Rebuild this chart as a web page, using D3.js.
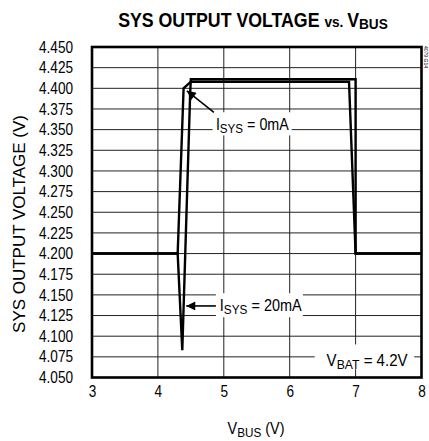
<!DOCTYPE html>
<html><head><meta charset="utf-8">
<script src="https://cdn.jsdelivr.net/npm/d3@7"></script>
<style>
body{margin:0;background:#fff;}
text{font-family:"Liberation Sans",Arial,sans-serif;fill:#000;}
</style></head>
<body><svg id="c" width="429" height="441"></svg>
<script>
// ---- data ----
const xTicks = [3,4,5,6,7,8];
const yTicks = [4.050,4.075,4.100,4.125,4.150,4.175,4.200,4.225,4.250,4.275,4.300,4.325,4.350,4.375,4.400,4.425,4.450];
const vbus0mA = [3.00, 4.30, 4.39, 4.50, 6.90, 7.00, 8.00];
const sys0mA  = [4.200,4.200,4.400,4.408,4.408,4.200,4.200];
const vbus20mA = [3.00, 4.30, 4.37, 4.49, 4.50, 7.00, 7.00, 8.00];
const sys20mA  = [4.200,4.200,4.083,4.395,4.411,4.411,4.200,4.200];
const yTitle = "SYS OUTPUT VOLTAGE (V)";

const svg = d3.select("#c");
const x = d3.scaleLinear().domain([3,8]).range([92,421.5]);
const y = d3.scaleLinear().domain([4.05,4.45]).range([377.5,47]);

// condense helper: scale a text horizontally around its anchor x
function condense(el, s){
  const ax = +el.getAttribute("x") || 0;
  const prev = el.getAttribute("transform") || "";
  el.setAttribute("transform", `${prev} translate(${ax},0) scale(${s},1) translate(${-ax},0)`);
}
function fitWidth(el, w){
  const nat = el.getComputedTextLength();
  condense(el, w/nat);
}

// grid
const g = svg.append("g");
g.selectAll("line.v").data(xTicks.slice(1,-1)).join("line")
  .attr("x1",d=>x(d)).attr("x2",d=>x(d)).attr("y1",y(4.45)).attr("y2",y(4.05))
  .attr("stroke","#222").attr("stroke-width",1);
g.selectAll("line.h").data(yTicks.slice(1,-1)).join("line")
  .attr("y1",d=>y(d)).attr("y2",d=>y(d)).attr("x1",x(3)).attr("x2",x(8))
  .attr("stroke","#222").attr("stroke-width",1);

// axes labels via d3 axes
const yAxis = d3.axisLeft(y).tickValues(yTicks).tickFormat(d3.format(".3f")).tickSize(0).tickPadding(19);
const ya = svg.append("g").attr("transform",`translate(${x(3)},0)`).call(yAxis);
ya.select(".domain").remove();
ya.selectAll("text").attr("font-size",16).attr("fill","#000").each(function(){condense(this,0.85);});

const xAxis = d3.axisBottom(x).tickValues(xTicks).tickFormat(d3.format("d")).tickSize(0).tickPadding(8);
const xa = svg.append("g").attr("transform",`translate(0,${y(4.05)})`).call(xAxis);
xa.select(".domain").remove();
xa.selectAll("text").attr("font-size",16).attr("fill","#000").each(function(){condense(this,0.85);});

// curves
const line = d3.line().x(d=>x(d[0])).y(d=>y(d[1]));
const c0 = vbus0mA.map((v,i)=>[v,sys0mA[i]]);
const c20 = vbus20mA.map((v,i)=>[v,sys20mA[i]]);
[c0,c20].forEach(c=>{
  svg.append("path").attr("d",line(c)).attr("fill","none").attr("stroke","#000")
    .attr("stroke-width",2.4).attr("stroke-linejoin","miter");
});

// annotations
function label(tx,ty,main,sub,rest,box,w){
  svg.append("rect").attr("x",x(box[0])).attr("y",y(box[3])).attr("width",x(box[1])-x(box[0]))
    .attr("height",y(box[2])-y(box[3])).attr("fill","#fff");
  const t = svg.append("text").attr("x",x(tx)).attr("y",y(ty)).attr("font-size",16);
  t.append("tspan").text(main);
  t.append("tspan").attr("font-size",13).attr("dy",3).text(sub);
  t.append("tspan").attr("dy",-3).text(rest);
  fitWidth(t.node(), w);
}
label(4.88,4.349,"I","SYS"," = 0mA",[4.83,6.03,4.343,4.371],73);
label(4.94,4.130,"I","SYS"," = 20mA",[4.88,6.20,4.123,4.152],82);
label(6.56,4.0645,"V","BAT"," = 4.2V",[6.38,7.89,4.060,4.090],81);

// arrows
svg.append("defs").append("marker").attr("id","ah").attr("viewBox","0 0 10 10")
  .attr("refX",10).attr("refY",5).attr("markerWidth",16).attr("markerHeight",9)
  .attr("markerUnits","userSpaceOnUse").attr("orient","auto")
  .append("path").attr("d","M0,0L10,5L0,10Z").attr("fill","#000");
svg.append("line").attr("x1",x(4.85)).attr("y1",y(4.371)).attr("x2",x(4.44)).attr("y2",y(4.397))
  .attr("stroke","#000").attr("stroke-width",1.6).attr("marker-end","url(#ah)");
svg.append("line").attr("x1",x(4.88)).attr("y1",y(4.1366)).attr("x2",x(4.43)).attr("y2",y(4.1366))
  .attr("stroke","#000").attr("stroke-width",1.6).attr("marker-end","url(#ah)");

// frame
svg.append("rect").attr("x",x(3)).attr("y",y(4.45)).attr("width",x(8)-x(3)).attr("height",y(4.05)-y(4.45))
  .attr("fill","none").attr("stroke","#000").attr("stroke-width",2.6);

// titles
const tt = svg.append("text").attr("x",253).attr("y",27).attr("text-anchor","middle")
  .attr("font-size",19.5).attr("font-weight","bold");
tt.append("tspan").text("SYS OUTPUT VOLTAGE ");
tt.append("tspan").attr("font-size",15).text("vs. ");
tt.append("tspan").text("V");
tt.append("tspan").attr("font-size",15).attr("dy",2).text("BUS");
fitWidth(tt.node(), 270);

const xt = svg.append("text").attr("x",256).attr("y",434).attr("text-anchor","middle").attr("font-size",16);
xt.append("tspan").text("V");
xt.append("tspan").attr("font-size",13).attr("dy",3).text("BUS");
xt.append("tspan").attr("dy",-3).text(" (V)");
fitWidth(xt.node(), 57);

const yt = svg.append("text").attr("transform","translate(25,224) rotate(-90)").attr("text-anchor","middle")
  .attr("font-size",16).text(yTitle);
fitWidth(yt.node(), 218);

svg.append("text").attr("transform","translate(424,46) rotate(90)").attr("font-size",5)
  .attr("fill","#555").text("4079 G14");
</script></body></html>
